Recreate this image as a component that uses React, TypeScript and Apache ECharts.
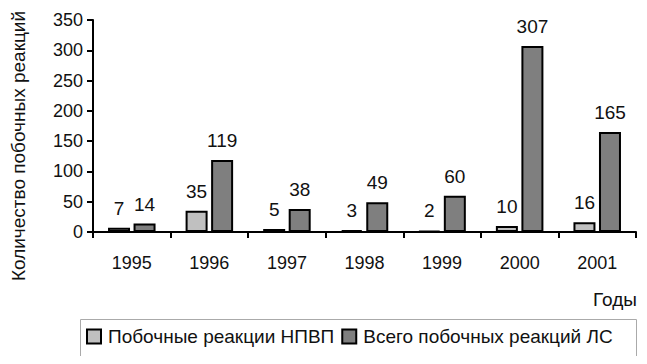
import React, { useEffect, useRef } from "react";
import * as echarts from "echarts";

const years = ["1995", "1996", "1997", "1998", "1999", "2000", "2001"];
const nsaidReactions = [7, 35, 5, 3, 2, 10, 16];
const totalReactions = [14, 119, 38, 49, 60, 307, 165];
const seriesNames = ["Побочные реакции НПВП", "Всего побочных реакций ЛС"];
const yAxisTitle = "Количество побочных реакций";
const xAxisTitle = "Годы";

const FONT = "'Liberation Sans', Arial, sans-serif";

export default function App() {
  const ref = useRef<HTMLDivElement>(null);
  useEffect(() => {
    if (!ref.current) return;
    const chart = echarts.init(ref.current, null, { renderer: "svg" });
    const label = {
      show: true,
      position: "top" as const,
      distance: 10,
      fontSize: 19,
      color: "#111",
      fontFamily: FONT,
    };
    chart.setOption({
      animation: false,
      backgroundColor: "#fff",
      textStyle: { fontFamily: FONT },
      grid: { left: 93, right: 11, top: 20, bottom: 132, containLabel: false },
      xAxis: {
        type: "category",
        data: years,
        boundaryGap: true,
        axisLine: { lineStyle: { color: "#000", width: 2 } },
        axisTick: { show: true, length: 6, inside: false, lineStyle: { color: "#000", width: 2 } },
        axisLabel: { fontSize: 18, color: "#111", margin: 22, fontFamily: FONT },
      },
      yAxis: {
        type: "value",
        min: 0,
        max: 350,
        interval: 50,
        axisLine: { show: true, lineStyle: { color: "#000", width: 2 } },
        axisTick: { show: true, length: 6, lineStyle: { color: "#000", width: 2 } },
        axisLabel: { fontSize: 18, color: "#111", margin: 10, fontFamily: FONT },
        splitLine: { show: false },
      },
      legend: {
        left: 86,
        top: 327,
        padding: 0,
        itemWidth: 14,
        itemHeight: 14,
        itemGap: 7,
        icon: "rect",
        textStyle: { fontSize: 19, color: "#111", fontFamily: FONT, padding: [0, 0, 0, 2] },
        data: seriesNames,
      },
      series: [
        {
          name: seriesNames[0],
          type: "bar",
          data: nsaidReactions,
          barWidth: 22,
          barGap: "16%",
          itemStyle: { color: "#c0c0c0", borderColor: "#000", borderWidth: 2 },
          label,
        },
        {
          name: seriesNames[1],
          type: "bar",
          data: totalReactions,
          barWidth: 22,
          itemStyle: { color: "#7f7f7f", borderColor: "#000", borderWidth: 2 },
          label,
        },
      ],
      graphic: [
        {
          type: "rect",
          left: 78,
          top: 317,
          shape: { width: 556, height: 38 },
          style: { fill: "none", stroke: "#aaa", lineWidth: 1 },
          z: -1,
        },
        {
          type: "text",
          x: 615,
          y: 299,
          style: {
            text: xAxisTitle,
            fontSize: 19,
            fill: "#111",
            fontFamily: FONT,
            align: "center",
            verticalAlign: "middle",
          },
        },
        {
          type: "text",
          x: 18,
          y: 146,
          rotation: Math.PI / 2,
          style: {
            text: yAxisTitle,
            fontSize: 19,
            fill: "#111",
            fontFamily: FONT,
            align: "center",
            verticalAlign: "middle",
          },
        },
      ],
    });
    return () => chart.dispose();
  }, []);
  return <div ref={ref} style={{ width: 647, height: 364, margin: -8 }} />;
}
